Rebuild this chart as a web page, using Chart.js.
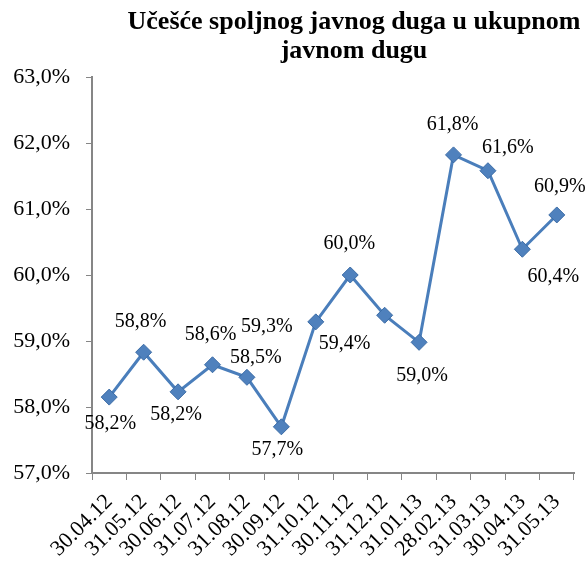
<!DOCTYPE html>
<html>
<head>
<meta charset="utf-8">
<script src="https://cdn.jsdelivr.net/npm/chart.js@4.4.0/dist/chart.umd.min.js"></script>
<style>
  html, body { margin: 0; padding: 0; background: #fff; }
  #wrap { width: 586px; height: 567px; }
</style>
</head>
<body>
<div id="wrap"><canvas id="c"></canvas></div>
<script>
var labels = ['30.04.12', '31.05.12', '30.06.12', '31.07.12', '31.08.12', '30.09.12', '31.10.12',
              '30.11.12', '31.12.12', '31.01.13', '28.02.13', '31.03.13', '30.04.13', '31.05.13'];
var values = [58.15, 58.83, 58.23, 58.64, 58.45, 57.70, 59.29, 60.00, 59.39, 58.98, 61.82, 61.58, 60.39, 60.91];
var shown = ['58,2%', '58,8%', '58,2%', '58,6%', '58,5%', '57,7%', '59,3%', '60,0%', '59,4%', '59,0%', '61,8%', '61,6%', '60,4%', '60,9%'];
var titleLines = ['Učešće spoljnog javnog duga u ukupnom', 'javnom dugu'];

// where each value label sits relative to its point
var labelOffsets = [[1, 27], [-3, -30], [-2, 23], [-2, -30], [9, -20], [-4, 23], [-49, 5],
                    [-1, -31], [-40, 28], [3, 33], [-1, -30], [20, -23], [31, 27], [3, -28]];

var serif = '"Liberation Serif", "Times New Roman", serif';

var valueLabels = {
  id: 'valueLabels',
  afterDatasetsDraw: function(chart) {
    var ctx = chart.ctx;
    var meta = chart.getDatasetMeta(0);
    ctx.save();
    ctx.font = '20px ' + serif;
    ctx.fillStyle = '#000';
    ctx.textAlign = 'center';
    ctx.textBaseline = 'middle';
    meta.data.forEach(function(pt, i) {
      ctx.fillText(shown[i], pt.x + labelOffsets[i][0], pt.y + labelOffsets[i][1]);
    });
    ctx.restore();
  }
};

var titlePlugin = {
  id: 'ownTitle',
  afterDraw: function(chart) {
    var ctx = chart.ctx;
    ctx.save();
    ctx.font = 'bold 26px ' + serif;
    ctx.fillStyle = '#000';
    ctx.textAlign = 'center';
    ctx.textBaseline = 'alphabetic';
    ctx.fillText(titleLines[0], 354, 29);
    ctx.fillText(titleLines[1], 354, 58);
    ctx.restore();
  }
};

var ctx = document.getElementById('c');
var myChart = new Chart(ctx, {
  type: 'line',
  data: {
    labels: labels,
    datasets: [{
      data: values,
      borderColor: '#4A7EBB',
      backgroundColor: '#4F81BD',
      borderWidth: 3,
      pointStyle: 'rectRot',
      pointRadius: 8,
      pointBorderColor: '#3A6BA5',
      pointBorderWidth: 1,
      pointBackgroundColor: '#4F81BD',
      tension: 0
    }]
  },
  options: {
    responsive: true,
    maintainAspectRatio: false,
    animation: false,
    layout: { padding: { top: 77, right: 12, left: 0, bottom: 0 } },
    plugins: {
      legend: { display: false },
      tooltip: { enabled: false },
      title: { display: false }
    },
    scales: {
      x: {
        offset: true,
        grid: { drawOnChartArea: false, color: '#868686', tickLength: 7, offset: true },
        border: { color: '#868686', width: 2 },
        ticks: {
          color: '#000',
          autoSkip: false,
          font: { family: serif, size: 22 },
          minRotation: 45,
          maxRotation: 45,
          padding: 9
        },
        afterFit: function(scale) { scale.height = 94; }
      },
      y: {
        min: 57,
        max: 63,
        grid: { drawOnChartArea: false, color: '#868686', tickLength: 6 },
        border: { color: '#868686', width: 2 },
        ticks: {
          stepSize: 1,
          color: '#000',
          padding: 16,
          font: { family: serif, size: 22 },
          callback: function(v) { return v.toFixed(1).replace('.', ',') + '%'; }
        },
        afterFit: function(scale) { scale.width = 92; }
      }
    }
  },
  plugins: [valueLabels, titlePlugin]
});
</script>
</body>
</html>
